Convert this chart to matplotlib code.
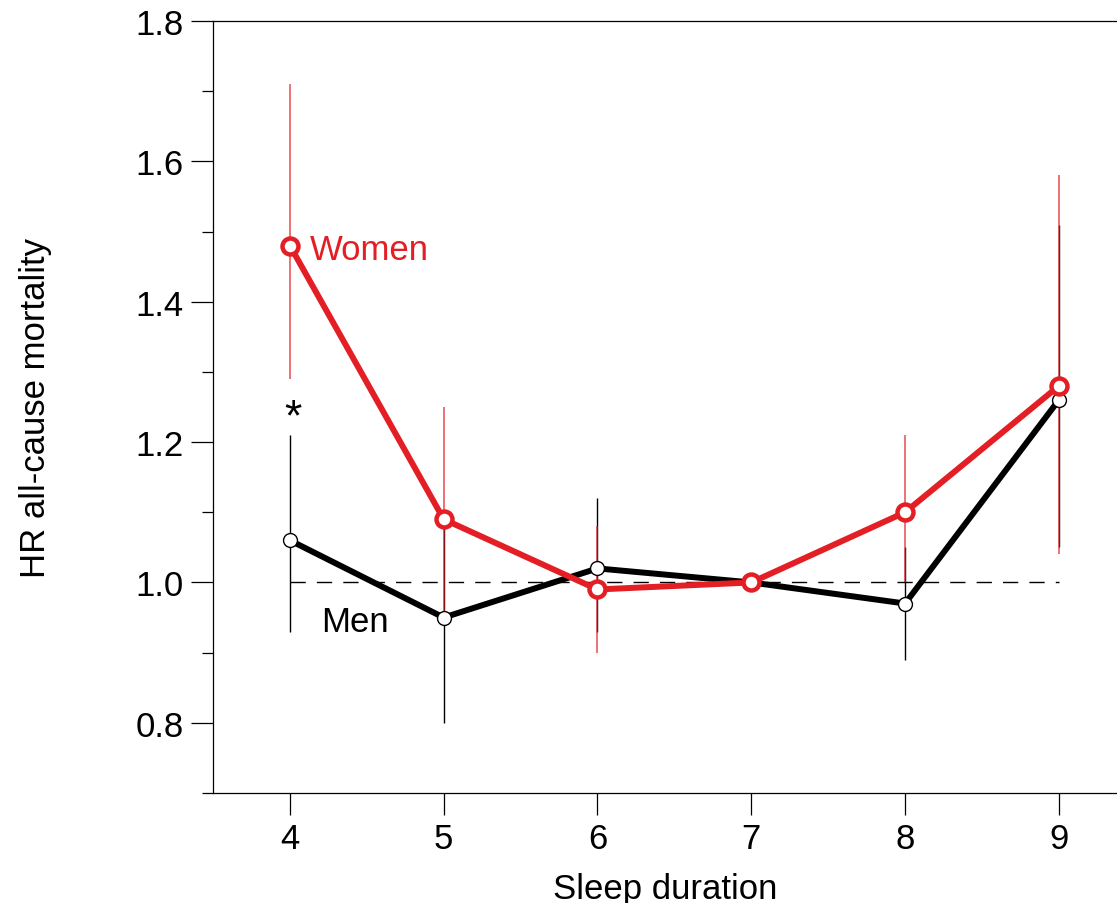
import numpy as np
import matplotlib.pyplot as plt
from matplotlib.ticker import MultipleLocator

plt.rcParams['font.family'] = ['Liberation Sans', 'DejaVu Sans']

hours = [4, 5, 6, 7, 8, 9]
# Women: HR with 95% CI
women_hr = [1.48, 1.09, 0.99, 1.00, 1.10, 1.28]
women_lo = [1.29, 0.95, 0.90, 1.00, 1.00, 1.04]
women_hi = [1.71, 1.25, 1.08, 1.00, 1.21, 1.58]
# Men: HR with 95% CI
men_hr = [1.06, 0.95, 1.02, 1.00, 0.97, 1.26]
men_lo = [0.93, 0.80, 0.93, 1.00, 0.89, 1.05]
men_hi = [1.21, 1.09, 1.12, 1.00, 1.05, 1.51]

red = '#e31e24'

fig = plt.figure(figsize=(11.17, 9.04), dpi=100)
ax = fig.add_axes([213/1117, 1 - 794/904, 1 - 213/1117, (794 - 22)/904])

# reference line
ax.hlines(1.0, hours[0], hours[-1], colors='black', linestyles=(0, (11, 8)),
          linewidth=1.0, zorder=1)

# confidence intervals
ax.vlines(hours, men_lo, men_hi, colors='black', linewidth=1.0, zorder=2)
ax.vlines(hours, women_lo, women_hi, colors=red, linewidth=1.1, alpha=0.8, zorder=3)

# lines + markers
ax.plot(hours, men_hr, color='black', linewidth=4.3, marker='o', markersize=10,
        markerfacecolor='white', markeredgecolor='black', markeredgewidth=1.0,
        zorder=4)
ax.plot(hours, women_hr, color=red, linewidth=4.3, marker='o', markersize=11.5,
        markerfacecolor='white', markeredgecolor=red, markeredgewidth=3.2,
        zorder=5)

ax.text(4.13, 1.475, 'Women', color=red, fontsize=25, va='center', ha='left')
ax.text(4.2, 0.945, 'Men', color='black', fontsize=25, va='center', ha='left')
ax.text(4.02, 1.235, '*', color='black', fontsize=32, va='center', ha='center')

ax.set_xlim(3.5, 9.378)
ax.set_ylim(0.7, 1.8)
ax.set_xticks(hours)
ax.yaxis.set_major_locator(MultipleLocator(0.2))
ax.yaxis.set_minor_locator(MultipleLocator(0.1))
ax.set_yticks(np.arange(0.8, 1.81, 0.2))
ax.set_yticklabels(['0.8', '1.0', '1.2', '1.4', '1.6', '1.8'])

ax.tick_params(axis='both', which='major', direction='out', length=16, width=0.9,
               labelsize=25, pad=5)
ax.tick_params(axis='y', which='minor', direction='out', length=8, width=0.9)

ax.spines['right'].set_visible(False)
for s in ['left', 'bottom', 'top']:
    ax.spines[s].set_linewidth(0.9)

ax.set_xlabel('Sleep duration', fontsize=25, labelpad=12)
ax.set_ylabel('HR all-cause mortality', fontsize=25, labelpad=60)

fig.savefig('out.png', dpi=100)
